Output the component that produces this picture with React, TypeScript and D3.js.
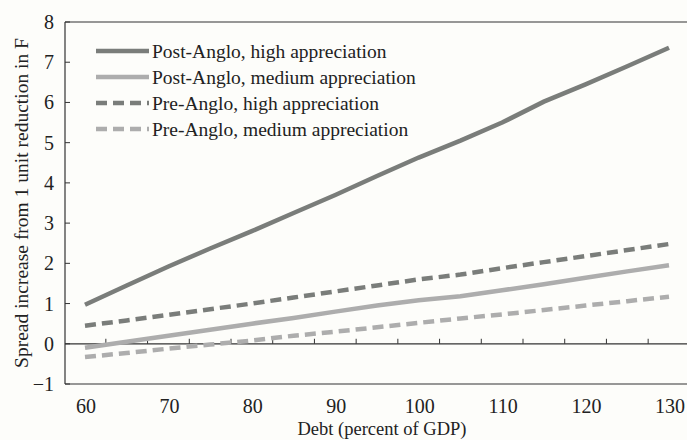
import { useEffect, useRef } from 'react';
import * as d3 from 'd3';

const debt = [60, 65, 70, 75, 80, 85, 90, 95, 100, 105, 110, 115, 120, 125, 130];
const postHigh = [0.97, 1.45, 1.92, 2.37, 2.8, 3.25, 3.7, 4.17, 4.63, 5.05, 5.5, 6.02, 6.45, 6.9, 7.36];
const postMedium = [-0.1, 0.05, 0.2, 0.35, 0.5, 0.64, 0.8, 0.95, 1.08, 1.18, 1.33, 1.48, 1.64, 1.8, 1.95];
const preHigh = [0.45, 0.58, 0.72, 0.86, 1.0, 1.15, 1.3, 1.45, 1.6, 1.72, 1.88, 2.03, 2.18, 2.33, 2.48];
const preMedium = [-0.33, -0.23, -0.12, -0.02, 0.08, 0.2, 0.3, 0.41, 0.52, 0.63, 0.73, 0.84, 0.95, 1.06, 1.17];
const seriesNames = [
  'Post-Anglo, high appreciation',
  'Post-Anglo, medium appreciation',
  'Pre-Anglo, high appreciation',
  'Pre-Anglo, medium appreciation',
];
const xTicks = [60, 70, 80, 90, 100, 110, 120, 130];
const yTicks = [-1, 0, 1, 2, 3, 4, 5, 6, 7, 8];

const DARK = '#7a7d7a';
const LIGHT = '#adadad';

export default function App() {
  const ref = useRef<SVGSVGElement>(null);

  useEffect(() => {
    document.body.style.margin = '0';
    const width = 687;
    const height = 440;
    const margin = { top: 22, right: 0, bottom: 56, left: 65 };
    const font = '"Liberation Serif", "Times New Roman", serif';

    const svg = d3.select(ref.current);
    svg.selectAll('*').remove();
    svg.attr('width', width).attr('height', height);

    svg.append('rect').attr('width', width).attr('height', height).attr('fill', '#fdfdfa');

    const x = d3.scaleLinear().domain([60, 130]).range([85, 669]);
    const y = d3.scaleLinear().domain([-1, 8]).range([height - margin.bottom, margin.top]);

    const series = [
      { name: seriesNames[0], values: postHigh, color: DARK, dash: null },
      { name: seriesNames[1], values: postMedium, color: LIGHT, dash: null },
      { name: seriesNames[2], values: preHigh, color: DARK, dash: '11,6' },
      { name: seriesNames[3], values: preMedium, color: LIGHT, dash: '11,6' },
    ];

    const axisColor = '#333';

    // frame: left, top, bottom
    svg.append('line')
      .attr('x1', margin.left).attr('x2', width)
      .attr('y1', y(8)).attr('y2', y(8))
      .attr('stroke', axisColor).attr('stroke-width', 1.2);
    svg.append('line')
      .attr('x1', margin.left).attr('x2', width)
      .attr('y1', y(-1)).attr('y2', y(-1))
      .attr('stroke', axisColor).attr('stroke-width', 1.2);
    svg.append('line')
      .attr('x1', margin.left).attr('x2', margin.left)
      .attr('y1', y(8)).attr('y2', y(-1))
      .attr('stroke', axisColor).attr('stroke-width', 1.2);

    // zero line with category ticks
    svg.append('line')
      .attr('x1', margin.left).attr('x2', width)
      .attr('y1', y(0)).attr('y2', y(0))
      .attr('stroke', axisColor).attr('stroke-width', 1.2);
    const between = debt.slice(1).map((d) => d - 2.5);
    svg.append('g').selectAll('line')
      .data(between)
      .enter()
      .append('line')
      .attr('x1', (d) => x(d)).attr('x2', (d) => x(d))
      .attr('y1', y(0)).attr('y2', y(0) - 5)
      .attr('stroke', axisColor).attr('stroke-width', 1);

    // y ticks
    svg.append('g').selectAll('line')
      .data(yTicks)
      .enter()
      .append('line')
      .attr('x1', margin.left).attr('x2', margin.left + 5)
      .attr('y1', (d) => y(d)).attr('y2', (d) => y(d))
      .attr('stroke', axisColor).attr('stroke-width', 1);
    svg.append('g').selectAll('text')
      .data(yTicks)
      .enter()
      .append('text')
      .attr('x', 54)
      .attr('y', (d) => y(d))
      .attr('dy', '0.35em')
      .attr('text-anchor', 'end')
      .attr('font-family', font)
      .attr('font-size', 20)
      .attr('fill', '#222')
      .text((d) => (d < 0 ? '\u2212' + Math.abs(d) : String(d)));

    // x tick labels
    svg.append('g').selectAll('text')
      .data(xTicks)
      .enter()
      .append('text')
      .attr('x', (d) => x(d) + 1)
      .attr('y', 413)
      .attr('text-anchor', 'middle')
      .attr('font-family', font)
      .attr('font-size', 20)
      .attr('fill', '#222')
      .text((d) => d);

    // axis titles
    svg.append('text')
      .attr('x', 382).attr('y', 435)
      .attr('text-anchor', 'middle')
      .attr('font-family', font).attr('font-size', 18.5).attr('fill', '#222')
      .text('Debt (percent of GDP)');
    svg.append('text')
      .attr('transform', `translate(28, ${(y(8) + y(-1)) / 2}) rotate(-90)`)
      .attr('text-anchor', 'middle')
      .attr('font-family', font).attr('font-size', 19.5).attr('fill', '#222')
      .text('Spread increase from 1 unit reduction in F');

    // lines
    const line = d3.line<number>()
      .x((_, i) => x(debt[i]))
      .y((d) => y(d));
    series.forEach((s) => {
      const p = svg.append('path')
        .attr('d', line(s.values))
        .attr('fill', 'none')
        .attr('stroke', s.color)
        .attr('stroke-width', 4.5);
      if (s.dash) p.attr('stroke-dasharray', s.dash);
    });

    // legend
    const legend = svg.append('g');
    series.forEach((s, i) => {
      const ly = 51 + i * 26;
      const l = legend.append('line')
        .attr('x1', 96).attr('x2', 149)
        .attr('y1', ly).attr('y2', ly)
        .attr('stroke', s.color).attr('stroke-width', 4.5);
      if (s.dash) l.attr('stroke-dasharray', '11,6');
      legend.append('text')
        .attr('x', 152).attr('y', ly)
        .attr('dy', '0.35em')
        .attr('font-family', font).attr('font-size', 19.5).attr('fill', '#222')
        .text(s.name);
    });
  }, []);

  return <svg ref={ref}></svg>;
}
